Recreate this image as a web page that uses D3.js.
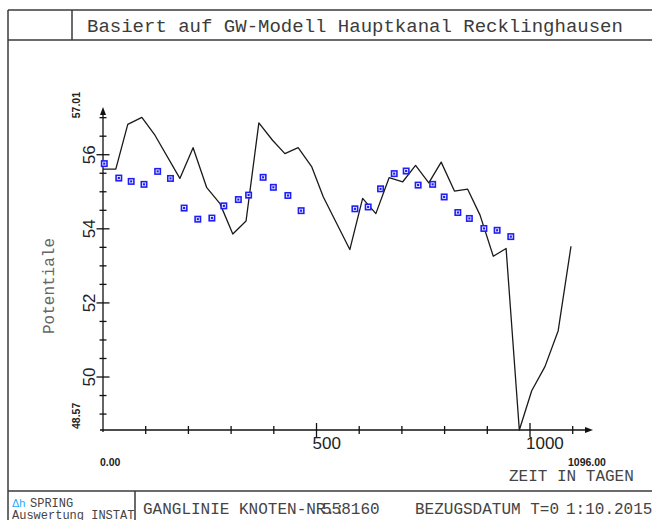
<!DOCTYPE html>
<html>
<head>
<meta charset="utf-8">
<script src="https://cdn.jsdelivr.net/npm/d3@7"></script>
<style>
  html, body { margin: 0; padding: 0; background: #fff; }
  svg { display: block; }
</style>
</head>
<body>
<script>
// Computed head (model) at node 558160, days since 01.10.2015
const modelDays = [0,30,58,91,122,180,211,243,274,304,335,365,397,426,457,489,516,578,608,639,670,702,732,763,792,823,854,883,914,944,975,1004,1035,1066,1096];
const modelHead = [55.61,55.61,56.82,57.01,56.52,55.36,56.19,55.11,54.68,53.86,54.21,56.86,56.39,56.03,56.19,55.67,54.86,53.44,54.82,54.41,55.38,55.27,55.71,55.24,55.80,55.02,55.07,54.37,53.26,53.47,48.57,49.63,50.28,51.25,53.53];

// Measured heads
const obsDays = [3,37,66,96,128,158,190,222,255,283,317,341,375,399,433,464,590,621,650,682,710,738,772,799,831,858,892,923,955];
const obsHead = [55.76,55.37,55.28,55.20,55.55,55.36,54.56,54.26,54.29,54.62,54.79,54.91,55.39,55.12,54.90,54.49,54.54,54.59,55.08,55.49,55.56,55.18,55.20,54.86,54.44,54.28,54.01,53.96,53.79];

// Axis ranges and labels
const timeRange = [0, 1096];
const headRange = [48.57, 57.01];
const yMajorLabels = [50, 52, 54, 56];
const xMajorLabels = [500, 1000];
const titleText = "Basiert auf GW-Modell Hauptkanal Recklinghausen";
const xTitle = "ZEIT IN TAGEN";
const yTitle = "Potentiale";

const W = 652, H = 520;
const svg = d3.select("body").append("svg").attr("width", W).attr("height", H);

const frame = "#3a3a3a";
const mono = "'Liberation Mono', 'DejaVu Sans Mono', monospace";
const sans = "'Liberation Sans', Arial, sans-serif";

// ---- frame and title block ----
const fr = svg.append("g").attr("stroke", frame).attr("stroke-width", 1.5).attr("fill", "none");
fr.append("line").attr("x1", 8).attr("x2", W).attr("y1", 10).attr("y2", 10);
fr.append("line").attr("x1", 8).attr("x2", 8).attr("y1", 10).attr("y2", H);
fr.append("line").attr("x1", 72).attr("x2", 72).attr("y1", 10).attr("y2", 40);
fr.append("line").attr("x1", 8).attr("x2", W).attr("y1", 40).attr("y2", 40);
fr.append("line").attr("x1", 8).attr("x2", W).attr("y1", 491).attr("y2", 491);
fr.append("line").attr("x1", 135).attr("x2", 135).attr("y1", 491).attr("y2", H);

svg.append("text").attr("x", 87).attr("y", 32)
  .attr("font-family", mono).attr("font-size", 19).attr("fill", "#3c3c3c")
  .text(titleText);

// ---- scales ----
const x = d3.scaleLinear().domain(timeRange).range([103, 571]);
const y = d3.scaleLinear().domain(headRange).range([430, 117.3]);

const ax = svg.append("g").attr("stroke", "#111").attr("stroke-width", 1.3);

// x axis
const x0 = x(0), y0 = y(headRange[0]);
ax.append("line").attr("x1", x0 - 3).attr("x2", 588).attr("y1", y0).attr("y2", y0);
svg.append("path").attr("d", `M593,${y0} L585,${y0 - 3} L585,${y0 + 3} Z`).attr("fill", "#111");
d3.range(100, 1101, 100).forEach(t => {
  const major = xMajorLabels.includes(t);
  const h = major ? 7 : 4;
  ax.append("line").attr("x1", x(t)).attr("x2", x(t)).attr("y1", y0 - h).attr("y2", y0 + h);
});

// y axis
ax.append("line").attr("x1", x0).attr("x2", x0).attr("y1", y0 + 2).attr("y2", 112);
svg.append("path").attr("d", `M${x0},107 L${x0 - 3},115 L${x0 + 3},115 Z`).attr("fill", "#111");
d3.range(49, 57.01, 0.5).forEach(v => {
  const major = yMajorLabels.includes(v);
  const h = major ? 6.5 : 3.5;
  ax.append("line").attr("x1", x0 - h).attr("x2", x0 + h).attr("y1", y(v)).attr("y2", y(v));
});

// y tick labels (rotated)
yMajorLabels.forEach(v => {
  svg.append("text")
    .attr("transform", `translate(95,${y(v)}) rotate(-90)`)
    .attr("text-anchor", "middle")
    .attr("font-family", sans).attr("font-size", 17).attr("fill", "#222")
    .text(v);
});
// x tick labels
xMajorLabels.forEach(t => {
  svg.append("text")
    .attr("x", x(t) - 4).attr("y", y0 + 19)
    .attr("font-family", sans).attr("font-size", 17).attr("fill", "#222")
    .text(t);
});

// range labels
const small = (sel) => sel.attr("font-family", sans).attr("font-size", 10.5).attr("font-weight", "bold").attr("fill", "#222");
small(svg.append("text").attr("transform", `translate(80,${y(headRange[1]) + 1}) rotate(-90)`)).text(headRange[1].toFixed(2));
small(svg.append("text").attr("transform", `translate(80,${y(headRange[0]) - 1}) rotate(-90)`)).text(headRange[0].toFixed(2));
small(svg.append("text").attr("x", x(timeRange[0]) - 3).attr("y", 466)).text(timeRange[0].toFixed(2));
small(svg.append("text").attr("x", x(timeRange[1]) - 3).attr("y", 466)).text(timeRange[1].toFixed(2));

// axis titles
svg.append("text").attr("x", 509).attr("y", 481)
  .attr("font-family", mono).attr("font-size", 16).attr("fill", "#444").text(xTitle);
svg.append("text").attr("transform", `translate(54,286) rotate(-90)`)
  .attr("text-anchor", "middle")
  .attr("font-family", mono).attr("font-size", 16).attr("fill", "#666").text(yTitle);

// ---- model line ----
const line = d3.line().x((d, i) => x(modelDays[i])).y(d => y(d));
svg.append("path").datum(modelHead)
  .attr("d", line).attr("fill", "none")
  .attr("stroke", "#1a1a1a").attr("stroke-width", 1.3).attr("stroke-linejoin", "round");

// ---- measured points ----
const pts = svg.append("g");
obsHead.forEach((v, i) => {
  const cx = x(obsDays[i]), cy = y(v);
  pts.append("rect").attr("x", cx - 3.5).attr("y", cy - 3.5).attr("width", 7).attr("height", 7).attr("fill", "#1f1ff5");
  pts.append("rect").attr("x", cx - 1.5).attr("y", cy - 1.5).attr("width", 3).attr("height", 3)
    .attr("fill", "none").attr("stroke", "#fff").attr("stroke-width", 0.8);
});

// ---- footer ----
svg.append("text").attr("x", 12).attr("y", 507)
  .attr("font-family", sans).attr("font-size", 11).attr("fill", "#2aa7ff").text("Δh");
svg.append("text").attr("x", 30).attr("y", 507)
  .attr("font-family", mono).attr("font-size", 12).attr("fill", "#444").text("SPRING");
svg.append("text").attr("x", 12).attr("y", 519)
  .attr("font-family", mono).attr("font-size", 12).attr("fill", "#444").text("Auswertung INSTAT");
const foot = (sel) => sel.attr("font-family", mono).attr("font-size", 16).attr("fill", "#444");
foot(svg.append("text").attr("x", 143).attr("y", 514)).text("GANGLINIE KNOTEN-NR.:");
foot(svg.append("text").attr("x", 322).attr("y", 514)).text("558160");
foot(svg.append("text").attr("x", 415).attr("y", 514)).text("BEZUGSDATUM T=0");
foot(svg.append("text").attr("x", 566).attr("y", 514)).text("1:10.2015");
</script>
</body>
</html>
